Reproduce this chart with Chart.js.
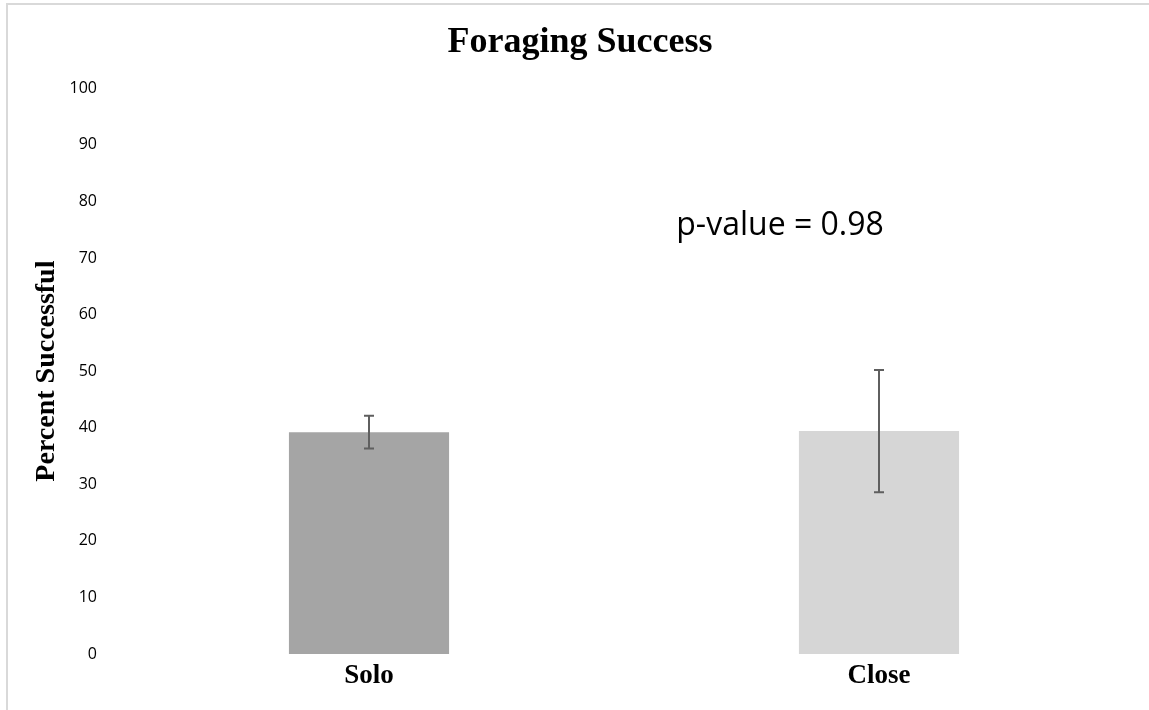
<!DOCTYPE html>
<html>
<head>
<meta charset="utf-8">
<script src="https://cdn.jsdelivr.net/npm/chart.js@4/dist/chart.umd.min.js"></script>
<style>
  body { margin: 0; background: #fff; }
  #wrap { position: relative; width: 1149px; height: 710px; }
  #frame { position: absolute; left: 6px; top: 3px; right: 0; bottom: 0;
           border-left: 2px solid #d9d9d9; border-top: 2px solid #d9d9d9; pointer-events: none; }
</style>
</head>
<body>
<div id="wrap">
  <canvas id="chart"></canvas>
  <div id="frame"></div>
</div>
<script>
const categories = ['Solo', 'Close'];
const successPct = [39.2, 39.4];
const errorPct = [2.9, 10.8];
const barColors = ['#a5a5a5', '#d6d6d6'];
const yTicks = [0, 10, 20, 30, 40, 50, 60, 70, 80, 90, 100];
const pValueText = 'p-value = 0.98';

// error bars + p-value label
const extras = {
    id: 'extras',
    afterDatasetsDraw(chart) {
        const ctx = chart.ctx;
        const y = chart.scales.y;
        const meta = chart.getDatasetMeta(0);
        ctx.save();
        ctx.strokeStyle = '#5f5f5f';
        ctx.lineWidth = 2;
        meta.data.forEach((bar, i) => {
            const top = y.getPixelForValue(successPct[i] + errorPct[i]);
            const bot = y.getPixelForValue(successPct[i] - errorPct[i]);
            ctx.beginPath();
            ctx.moveTo(bar.x, top); ctx.lineTo(bar.x, bot);
            ctx.moveTo(bar.x - 5, top); ctx.lineTo(bar.x + 5, top);
            ctx.moveTo(bar.x - 5, bot); ctx.lineTo(bar.x + 5, bot);
            ctx.stroke();
        });
        const area = chart.chartArea;
        ctx.fillStyle = '#000';
        ctx.font = '32px "Open Sans"';
        ctx.textAlign = 'center';
        ctx.textBaseline = 'middle';
        ctx.fillText(pValueText, area.left + (area.right - area.left) * 0.653, y.getPixelForValue(75.6));
        ctx.restore();
    }
};

new Chart(document.getElementById('chart'), {
    type: 'bar',
    data: {
        labels: categories,
        datasets: [{
            data: successPct,
            backgroundColor: barColors,
            borderWidth: 0,
            categoryPercentage: 1,
            barPercentage: 0.314
        }]
    },
    options: {
        responsive: true,
        maintainAspectRatio: false,
        animation: false,
        layout: { padding: { left: 26, right: 15, top: 0, bottom: 0 } },
        plugins: {
            legend: { display: false },
            tooltip: { enabled: false },
            title: {
                display: true,
                text: 'Foraging Success',
                color: '#000',
                font: { family: '"Liberation Serif", "Times New Roman", serif', size: 36, weight: 'bold' },
                padding: { top: 21, bottom: 24 }
            }
        },
        scales: {
            x: {
                grid: { display: false },
                border: { display: false },
                ticks: {
                    color: '#000',
                    padding: -2,
                    font: { family: '"Liberation Serif", "Times New Roman", serif', size: 27, weight: 'bold' }
                },
                afterFit(scale) { scale.height = 56; }
            },
            y: {
                min: 0,
                max: 100,
                afterBuildTicks(scale) { scale.ticks = yTicks.map(v => ({ value: v })); },
                grid: { display: false },
                border: { display: false },
                ticks: {
                    color: '#000',
                    padding: 9,
                    font: { family: '"Open Sans", sans-serif', size: 16 }
                },
                title: {
                    display: true,
                    text: 'Percent Successful',
                    color: '#000',
                    font: { family: '"Liberation Serif", "Times New Roman", serif', size: 28, weight: 'bold' },
                    padding: { top: 4, bottom: 0 }
                },
                afterFit(scale) { scale.width = 88; }
            }
        }
    },
    plugins: [extras]
});
</script>
</body>
</html>
